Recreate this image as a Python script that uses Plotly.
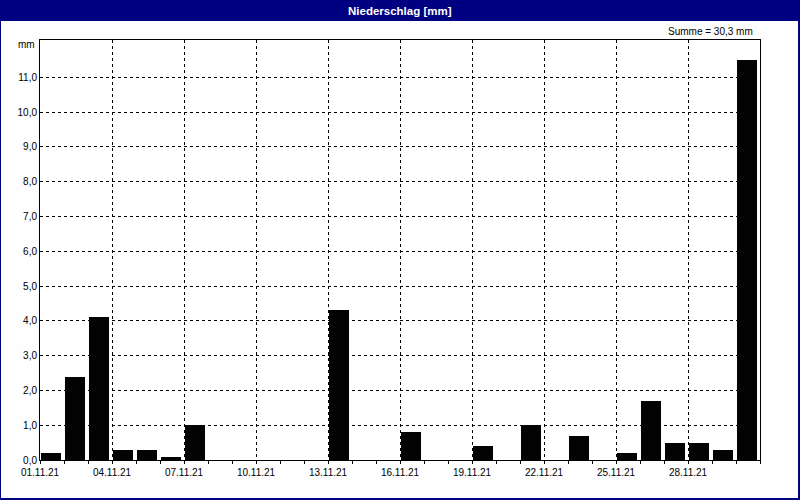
import plotly.graph_objects as go

# Data
days = [f"{d:02d}.11.21" for d in range(1, 31)]
rain_mm = [0.2, 2.4, 4.1, 0.3, 0.3, 0.1, 1.0, 0.0, 0.0, 0.0,
           0.0, 0.0, 4.3, 0.0, 0.0, 0.8, 0.0, 0.0, 0.4, 0.0,
           1.0, 0.0, 0.7, 0.0, 0.2, 1.7, 0.5, 0.5, 0.3, 11.5]
tick_idx = list(range(0, 30, 3))
tick_labels = [days[i] for i in tick_idx]
y_ticks = list(range(0, 12))
y_labels = [f"{v:.1f}".replace(".", ",") for v in y_ticks]

title = "Niederschlag [mm]"
total = sum(rain_mm)
sum_text = "Summe = " + f"{total:.1f}".replace(".", ",") + " mm"

W, H = 800, 500
L, R, T, B = 40, 40, 40, 40
PW, PH = W - L - R, H - T - B
NAVY = "#000080"
FONT = "Liberation Sans"

def px(xp):
    return (xp - L) / PW

def py(yp):
    return (H - B - yp) / PH

x_idx = list(range(len(days)))

fig = go.Figure()
fig.add_trace(go.Bar(
    x=x_idx, y=rain_mm, offset=0.03, width=0.84,
    marker=dict(color="#030303", line=dict(width=0)),
    hovertext=days, showlegend=False,
))

ymax = max(rain_mm) * 1.05

fig.update_layout(
    width=W, height=H,
    margin=dict(l=L, r=R, t=T, b=B),
    paper_bgcolor="#fdfefd",
    plot_bgcolor="#ffffff",
    font=dict(family=FONT, size=10, color="#000000"),
    bargap=0,
    xaxis=dict(
        range=[0, 30], tickmode="array", tickvals=tick_idx, ticktext=tick_labels,
        showgrid=True, gridcolor="#000000", gridwidth=1, griddash="3px,3px",
        showline=True, linecolor="#000000", linewidth=1, mirror=True,
        ticks="outside", ticklen=3, tickcolor="#000000",
        minor=dict(dtick=1, tick0=0, ticks="outside", ticklen=3, tickcolor="#000000", showgrid=False),
        zeroline=False, fixedrange=True, automargin=False,
    ),
    yaxis=dict(
        range=[0, ymax], tickmode="array", tickvals=y_ticks, ticktext=y_labels,
        showgrid=True, gridcolor="#000000", gridwidth=1, griddash="3px,3px",
        showline=True, linecolor="#000000", linewidth=1, mirror=True,
        ticks="", zeroline=False, fixedrange=True, automargin=False,
    ),
    shapes=[
        dict(type="rect", xref="paper", yref="paper", x0=px(0), x1=px(W), y0=py(21), y1=py(0),
             fillcolor=NAVY, line=dict(width=0), layer="above"),
        dict(type="rect", xref="paper", yref="paper", x0=px(0), x1=px(1), y0=py(H), y1=py(21),
             fillcolor=NAVY, line=dict(width=0), layer="above"),
        dict(type="rect", xref="paper", yref="paper", x0=px(W - 2), x1=px(W), y0=py(H), y1=py(21),
             fillcolor=NAVY, line=dict(width=0), layer="above"),
        dict(type="rect", xref="paper", yref="paper", x0=px(0), x1=px(W), y0=py(H), y1=py(H - 2),
             fillcolor=NAVY, line=dict(width=0), layer="above"),
    ],
    annotations=[
        dict(text=f"<b>{title}</b>", xref="paper", yref="paper", x=px(400), y=py(10.5),
             xanchor="center", yanchor="middle", showarrow=False,
             font=dict(family=FONT, size=11.5, color="#ffffff")),
        dict(text=sum_text, xref="paper", yref="paper", x=px(755), y=py(31),
             xanchor="right", yanchor="middle", showarrow=False,
             font=dict(family=FONT, size=10, color="#000000")),
        dict(text="mm", xref="paper", yref="paper", x=px(37), y=py(45),
             xanchor="right", yanchor="middle", showarrow=False,
             font=dict(family=FONT, size=10, color="#000000")),
    ],
)

fig.write_html("out.html", config={"displayModeBar": False},
               post_script="document.body.style.margin='0';document.body.style.padding='0';")
